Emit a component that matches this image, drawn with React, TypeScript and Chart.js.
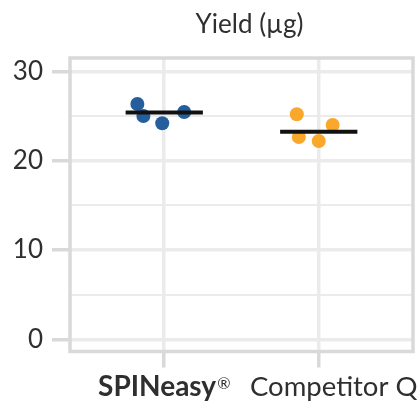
import React, { useEffect, useRef } from "react";
import { Chart, registerables } from "chart.js";

Chart.register(...registerables);

const categories = ["SPINeasy", "Competitor Q"];
const categoryMarks = ["®", ""];
const categoryBold = [true, false];
const categorySize = [28, 27.5];
const categoryShift = [0, 15];
const title = "Yield (µg)";
const yTicks = [0, 5, 10, 15, 20, 25, 30];

// jittered replicate points: x offset from category centre, y value
const spinX = [-0.174, -0.135, -0.013, 0.129];
const spinY = [26.35, 25.0, 24.2, 25.45];
const compX = [-0.142, -0.129, 0.0, 0.09];
const compY = [25.2, 22.65, 22.2, 24.0];
const meanY = [25.4, 23.25];

const blue = "#255e9d";
const orange = "#f9a82c";
const textColor = "#2f2f2f";
const gridColor = "#ebebeb";
const frameColor = "#d9d9d9";
const FONT = "Lato";

const framePlugin = {
  id: "frame",
  beforeDatasetsDraw(chart: any) {
    const { ctx, chartArea } = chart;
    ctx.save();
    ctx.strokeStyle = frameColor;
    ctx.lineWidth = 3.5;
    ctx.strokeRect(chartArea.left, chartArea.top, chartArea.right - chartArea.left, chartArea.bottom - chartArea.top);
    ctx.restore();
  },
  afterDraw(chart: any) {
    const { ctx, chartArea } = chart;
    ctx.save();
    ctx.fillStyle = textColor;
    ctx.textBaseline = "alphabetic";
    // title centred over the panel
    ctx.font = `normal 26px ${FONT}`;
    ctx.textAlign = "center";
    ctx.fillText(title, (chartArea.left + chartArea.right) / 2 + 8, 33.3);
    // category labels with optional superscript mark
    const xs = chart.scales.x;
    const baseY = chartArea.bottom + 44.5;
    ctx.textAlign = "left";
    categories.forEach((label, i) => {
      const cx = xs.getPixelForValue(i + 1) + categoryShift[i];
      const mainFont = `${categoryBold[i] ? "bold" : "normal"} ${categorySize[i]}px ${FONT}`;
      const supFont = `normal 16px ${FONT}`;
      ctx.font = mainFont;
      const w1 = ctx.measureText(label).width;
      ctx.font = supFont;
      const w2 = categoryMarks[i] ? ctx.measureText(categoryMarks[i]).width + 1 : 0;
      const x0 = cx - (w1 + w2) / 2;
      ctx.font = mainFont;
      ctx.fillText(label, x0, baseY);
      if (categoryMarks[i]) {
        ctx.font = supFont;
        ctx.fillText(categoryMarks[i], x0 + w1 + 1, baseY - 7.5);
      }
    });
    ctx.restore();
  },
};

export default function App() {
  const ref = useRef<HTMLCanvasElement>(null);
  useEffect(() => {
    const canvas = ref.current!;
    const pts = (xs: number[], ys: number[], c: number) => xs.map((dx, i) => ({ x: c + dx, y: ys[i] }));
    const meanLine = (c: number, v: number) => [
      { x: c - 0.25, y: v },
      { x: c + 0.25, y: v },
    ];
    const chart = new Chart(canvas, {
      type: "scatter",
      data: {
        datasets: [
          { type: "line", data: meanLine(1, meanY[0]), borderColor: "#111", borderWidth: 4, pointRadius: 0, order: 0 } as any,
          { type: "line", data: meanLine(2, meanY[1]), borderColor: "#111", borderWidth: 4, pointRadius: 0, order: 0 } as any,
          { data: pts(spinX, spinY, 1), backgroundColor: blue, borderColor: blue, pointRadius: 7, borderWidth: 0, order: 1 },
          { data: pts(compX, compY, 2), backgroundColor: orange, borderColor: orange, pointRadius: 7, borderWidth: 0, order: 1 },
        ],
      },
      options: {
        responsive: false,
        animation: false,
        layout: { padding: { left: 0, right: 5, top: 58, bottom: 0 } },
        plugins: {
          legend: { display: false },
          tooltip: { enabled: false },
          title: { display: false },
        },
        scales: {
          x: {
            type: "linear",
            min: 0.39,
            max: 2.61,
            afterBuildTicks: (s: any) => {
              s.ticks = categories.map((_, i) => ({ value: i + 1 }));
            },
            afterFit: (s: any) => {
              s.height = 52.5;
            },
            ticks: { display: false },
            grid: { color: gridColor, lineWidth: 3.5, tickColor: frameColor, tickLength: 16, tickWidth: 3.5 },
            border: { display: false },
          },
          y: {
            type: "linear",
            min: -1.37,
            max: 31.5,
            afterBuildTicks: (s: any) => {
              s.ticks = yTicks.map((v) => ({ value: v }));
            },
            afterFit: (s: any) => {
              s.width = 70;
            },
            ticks: {
              color: textColor,
              padding: 9,
              font: { family: FONT, size: 26 },
              callback: (v: any) => (v % 10 === 0 ? String(v) : ""),
            },
            grid: {
              color: gridColor,
              lineWidth: (ctx: any) => (ctx.tick && ctx.tick.value % 10 === 0 ? 3.5 : 2),
              tickColor: (ctx: any) => (ctx.tick && ctx.tick.value % 10 === 0 ? frameColor : "rgba(0,0,0,0)"),
              tickLength: 18,
              tickWidth: 3.5,
            },
            border: { display: false },
          },
        },
      },
      plugins: [framePlugin],
    } as any);
    return () => chart.destroy();
  }, []);
  return (
    <div style={{ position: "fixed", left: 0, top: 0, width: 420, height: 404, background: "#fff" }}>
      <canvas ref={ref} width={420} height={404} />
    </div>
  );
}
